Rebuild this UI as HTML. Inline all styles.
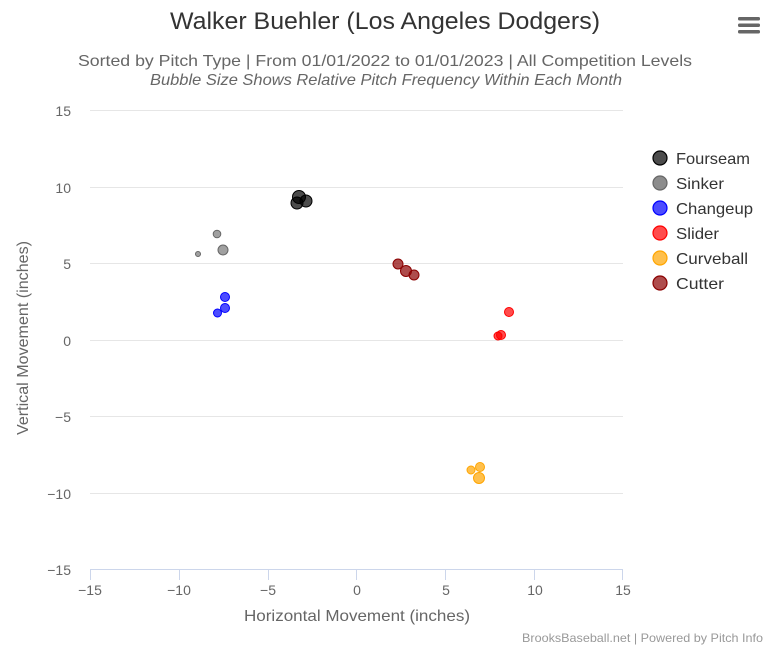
<!DOCTYPE html>
<html>
<head>
<meta charset="utf-8">
<style>
html,body{margin:0;padding:0;background:#fff;}
svg{display:block;font-family:"Liberation Sans",sans-serif;}
</style>
</head>
<body>
<svg width="768" height="648" viewBox="0 0 768 648" xmlns="http://www.w3.org/2000/svg">
<rect width="768" height="648" fill="#fff"/>
<!-- title -->
<text x="385" y="29" text-anchor="middle" font-size="24" fill="#333" textLength="430" lengthAdjust="spacingAndGlyphs">Walker Buehler (Los Angeles Dodgers)</text>
<text x="385" y="66" text-anchor="middle" font-size="16" fill="#666" textLength="614" lengthAdjust="spacingAndGlyphs">Sorted by Pitch Type | From 01/01/2022 to 01/01/2023 | All Competition Levels</text>
<text x="386" y="85" text-anchor="middle" font-size="16" font-style="italic" fill="#666" textLength="472" lengthAdjust="spacingAndGlyphs">Bubble Size Shows Relative Pitch Frequency Within Each Month</text>
<!-- menu -->
<g fill="#666">
<rect x="738" y="17" width="22" height="3.5" rx="1.5"/>
<rect x="738" y="23.5" width="22" height="3.5" rx="1.5"/>
<rect x="738" y="30" width="22" height="3.5" rx="1.5"/>
</g>
<!-- grid -->
<g stroke="#e6e6e6" stroke-width="1">
<line x1="90" y1="110.5" x2="623" y2="110.5"/>
<line x1="90" y1="187.5" x2="623" y2="187.5"/>
<line x1="90" y1="263.5" x2="623" y2="263.5"/>
<line x1="90" y1="340.5" x2="623" y2="340.5"/>
<line x1="90" y1="416.5" x2="623" y2="416.5"/>
<line x1="90" y1="493.5" x2="623" y2="493.5"/>
</g>
<!-- x axis -->
<g stroke="#ccd6eb" stroke-width="1">
<line x1="90" y1="569.5" x2="623" y2="569.5"/>
<line x1="90.5" y1="570" x2="90.5" y2="580"/>
<line x1="179.5" y1="570" x2="179.5" y2="580"/>
<line x1="268.5" y1="570" x2="268.5" y2="580"/>
<line x1="356.5" y1="570" x2="356.5" y2="580"/>
<line x1="445.5" y1="570" x2="445.5" y2="580"/>
<line x1="534.5" y1="570" x2="534.5" y2="580"/>
<line x1="622.5" y1="570" x2="622.5" y2="580"/>
</g>
<g font-size="14" fill="#666" text-anchor="middle">
<text x="90" y="595">−15</text>
<text x="179" y="595">−10</text>
<text x="268" y="595">−5</text>
<text x="357" y="595">0</text>
<text x="446" y="595">5</text>
<text x="535" y="595">10</text>
<text x="623" y="595">15</text>
</g>
<g font-size="14" fill="#666" text-anchor="end">
<text x="71" y="116">15</text>
<text x="71" y="193">10</text>
<text x="71" y="269">5</text>
<text x="71" y="346">0</text>
<text x="71" y="422">−5</text>
<text x="71" y="499">−10</text>
<text x="71" y="575">−15</text>
</g>
<text x="357" y="621" text-anchor="middle" font-size="16" fill="#666" textLength="226" lengthAdjust="spacingAndGlyphs">Horizontal Movement (inches)</text>
<text transform="translate(28,338) rotate(-90)" text-anchor="middle" font-size="16" fill="#666" textLength="194" lengthAdjust="spacingAndGlyphs">Vertical Movement (inches)</text>
<text x="763" y="642" text-anchor="end" font-size="12" fill="#999" textLength="241" lengthAdjust="spacingAndGlyphs">BrooksBaseball.net | Powered by Pitch Info</text>

<!-- bubbles -->
<g fill="rgba(128,128,128,0.75)" stroke="#666" stroke-width="1">
<circle cx="198" cy="254" r="2.5"/>
<circle cx="217" cy="234" r="3.8"/>
<circle cx="223" cy="250" r="5"/>
</g>
<g fill="rgba(0,0,0,0.7)" stroke="#000" stroke-width="1">
<circle cx="297" cy="203" r="6"/>
<circle cx="306" cy="201" r="6"/>
<circle cx="299" cy="197" r="6.5"/>
</g>
<g fill="rgba(0,0,255,0.7)" stroke="#0000ff" stroke-width="1">
<circle cx="225" cy="297" r="4.5"/>
<circle cx="225" cy="308" r="4.5"/>
<circle cx="217.5" cy="313" r="4"/>
</g>
<g fill="rgba(139,0,0,0.7)" stroke="#8b0000" stroke-width="1">
<circle cx="398" cy="264" r="5"/>
<circle cx="406" cy="271" r="5.5"/>
<circle cx="414" cy="275" r="5"/>
</g>
<g fill="rgba(255,0,0,0.7)" stroke="#ff0000" stroke-width="1">
<circle cx="509" cy="312" r="4.5"/>
<circle cx="501" cy="335" r="4.5"/>
<circle cx="498" cy="336" r="4"/>
</g>
<g fill="rgba(255,165,0,0.7)" stroke="#ffa500" stroke-width="1">
<circle cx="471" cy="470" r="4"/>
<circle cx="480" cy="467" r="4.5"/>
<circle cx="479" cy="478" r="5.5"/>
</g>

<!-- legend -->
<g stroke-width="1.2">
<circle cx="660" cy="158" r="7" fill="rgba(0,0,0,0.7)" stroke="#000"/>
<circle cx="660" cy="183" r="7" fill="rgba(128,128,128,0.9)" stroke="#666"/>
<circle cx="660" cy="208" r="7" fill="rgba(0,0,255,0.7)" stroke="#0000ff"/>
<circle cx="660" cy="233" r="7" fill="rgba(255,0,0,0.7)" stroke="#ff0000"/>
<circle cx="660" cy="258" r="7" fill="rgba(255,165,0,0.7)" stroke="#ffa500"/>
<circle cx="660" cy="283" r="7" fill="rgba(139,0,0,0.7)" stroke="#8b0000"/>
</g>
<g font-size="16" fill="#333">
<text x="676" y="164" textLength="74" lengthAdjust="spacingAndGlyphs">Fourseam</text>
<text x="676" y="189" textLength="48" lengthAdjust="spacingAndGlyphs">Sinker</text>
<text x="676" y="214" textLength="77" lengthAdjust="spacingAndGlyphs">Changeup</text>
<text x="676" y="239" textLength="43" lengthAdjust="spacingAndGlyphs">Slider</text>
<text x="676" y="264" textLength="72" lengthAdjust="spacingAndGlyphs">Curveball</text>
<text x="676" y="289" textLength="48" lengthAdjust="spacingAndGlyphs">Cutter</text>
</g>
</svg>
</body>
</html>
